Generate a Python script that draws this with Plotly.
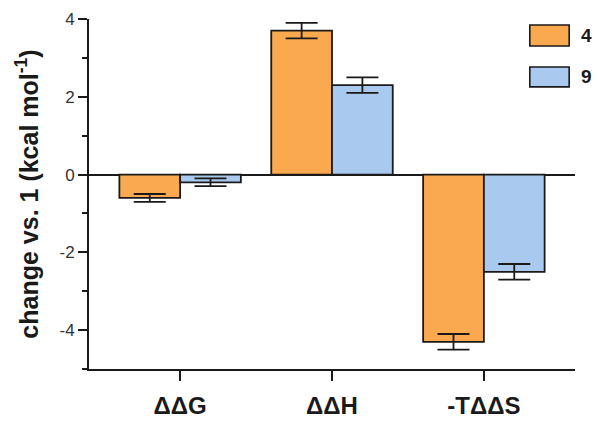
import plotly.graph_objects as go

categories = ["ΔΔG", "ΔΔH", "-TΔΔS"]
series_names = ["4", "9"]
values_4 = [-0.6, 3.7, -4.3]
errors_4 = [0.1, 0.2, 0.2]
values_9 = [-0.2, 2.3, -2.5]
errors_9 = [0.1, 0.2, 0.2]
y_tick_vals = [-4, -2, 0, 2, 4]
y_tick_text = ["-4", "-2", "0", "2", "4"]

colors = ["#FBA94F", "#A9C9EE"]
ink = "#1a1a1a"
FONT = "Liberation Sans, Arial, sans-serif"

fig = go.Figure()
for name, vals, errs, col in [
    (series_names[0], values_4, errors_4, colors[0]),
    (series_names[1], values_9, errors_9, colors[1]),
]:
    fig.add_trace(go.Bar(
        x=categories, y=vals, name=name, showlegend=False,
        marker=dict(color=col, line=dict(color=ink, width=1.8)),
        error_y=dict(type="data", array=errs, visible=True,
                     color=ink, thickness=1.8, width=16),
    ))

# legend drawn as boxes + labels (paper coordinates)
legend_rows = [(0.983, 0.923), (0.863, 0.806)]
for (y1, y0), name, col in zip(legend_rows, series_names, colors):
    fig.add_shape(type="rect", xref="paper", yref="paper",
                  x0=0.907, x1=0.988, y0=y0, y1=y1,
                  fillcolor=col, line=dict(color=ink, width=1.6))
    fig.add_annotation(xref="paper", yref="paper", x=1.008, y=(y0 + y1) / 2,
                       xanchor="left", yanchor="middle", showarrow=False,
                       text=name, font=dict(size=19, family=FONT, color=ink, weight="bold"))

fig.update_layout(
    width=601, height=423,
    margin=dict(l=89, r=26, t=19, b=54),
    paper_bgcolor="white", plot_bgcolor="white",
    barmode="group", bargap=0.2, bargroupgap=0,
    font=dict(family=FONT, color=ink),
    showlegend=False,
)
fig.update_xaxes(
    range=[-0.6, 2.6], automargin=False,
    showline=True, linecolor=ink, linewidth=1.8,
    ticks="outside", ticklen=10, tickwidth=1.8, tickcolor=ink,
    ticklabelstandoff=4,
    tickfont=dict(size=24, family=FONT, color=ink, weight="bold"),
    showgrid=False, zeroline=False,
)
fig.update_yaxes(
    range=[-5, 4], automargin=False,
    tickvals=y_tick_vals, ticktext=y_tick_text,
    showline=True, linecolor=ink, linewidth=1.8,
    ticks="outside", ticklen=9, tickwidth=1.8, tickcolor=ink,
    minor=dict(dtick=1, ticks="outside", ticklen=5, tickwidth=1.8, tickcolor=ink, showgrid=False),
    tickfont=dict(size=17, family=FONT, color="#333333"),
    showgrid=False,
    zeroline=True, zerolinecolor=ink, zerolinewidth=1.8,
    title=dict(text="change vs. 1 (kcal mol<sup>-1</sup>)", standoff=14,
               font=dict(size=25, family=FONT, color=ink, weight="bold")),
)

fig.write_html("out.html", config={"displayModeBar": False},
               post_script="document.body.style.margin='0';")
